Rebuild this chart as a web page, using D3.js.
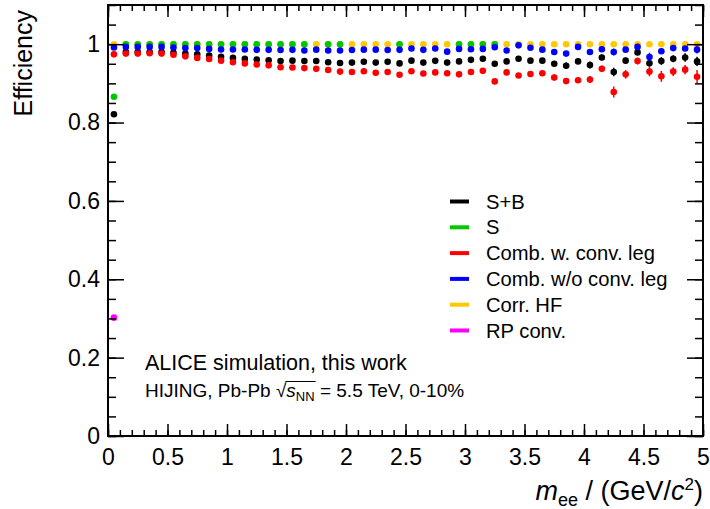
<!DOCTYPE html>
<html><head><meta charset="utf-8">
<script src="https://cdn.jsdelivr.net/npm/d3@7"></script>
<style>
html,body{margin:0;padding:0;background:#fff;}
text{font-family:"Liberation Sans",Arial,Helvetica,sans-serif;}
</style></head>
<body><svg id="c" width="710" height="509"></svg>
<script>
// ---- data ----
const binCenters = [0.05,0.15,0.25,0.35,0.45,0.55,0.65,0.75,0.85,0.95,1.05,1.15,1.25,1.35,1.45,1.55,1.65,1.75,1.85,1.95,2.05,2.15,2.25,2.35,2.45,2.55,2.65,2.75,2.85,2.95,3.05,3.15,3.25,3.35,3.45,3.55,3.65,3.75,3.85,3.95,4.05,4.15,4.25,4.35,4.45,4.55,4.65,4.75,4.85,4.95];
const xTickLabels = [0,0.5,1,1.5,2,2.5,3,3.5,4,4.5,5];
const yTickLabels = [0,0.2,0.4,0.6,0.8,1];
const seriesNames = ["S+B","S","Comb. w. conv. leg","Comb. w/o conv. leg","Corr. HF","RP conv."];
const seriesColors = ["#000000","#00c800","#ff0000","#0000ff","#ffc800","#ff00ff"];

const effSB = [0.821,0.980,0.980,0.980,0.980,0.978,0.976,0.974,0.971,0.968,0.965,0.9625,0.961,0.959,0.957,0.958,0.957,
0.957,0.954,0.952,0.953,0.955,0.953,0.955,0.951,0.958,0.953,0.9575,0.953,0.956,0.960,0.963,0.950,0.956,
0.963,0.958,0.958,0.950,0.945,0.956,0.947,0.966,0.929,0.958,0.979,0.9515,0.957,0.963,0.966,0.956];
const errSB = [0.002,0.002,0.002,0.002,0.002,0.002,0.002,0.002,0.002,0.002,0.002,0.002,0.002,0.002,0.002,0.002,0.002,
0.002,0.002,0.002,0.002,0.002,0.002,0.002,0.002,0.002,0.002,0.002,0.002,0.002,0.004,0.004,0.004,0.004,
0.004,0.004,0.004,0.006,0.008,0.006,0.009,0.007,0.011,0.008,0.007,0.009,0.010,0.009,0.011,0.012];
const effS = [0.866,1,1,1,1,1,1,1,1,1,1,1,1,1,1,1,1,
null,1,1,null,null,null,null,1,null,null,null,null,1,1,1,1,null,
null,null,null,null,null,null,null,null,null,null,null,null,null,null,null,null];
const effCombW = [0.974,0.976,0.976,0.977,0.976,0.973,0.969,0.965,0.962,0.958,0.954,0.951,0.948,0.946,0.941,0.9405,0.939,
0.937,0.934,0.930,0.929,0.931,0.927,0.929,0.922,0.931,0.925,0.928,0.926,0.923,0.929,0.932,0.905,0.928,
0.920,0.924,0.926,0.915,0.906,0.908,0.910,0.937,0.878,0.923,0.957,0.930,0.918,0.930,0.935,0.917];
const errCombW = [0.003,0.003,0.003,0.003,0.003,0.003,0.003,0.003,0.003,0.003,0.003,0.003,0.003,0.003,0.003,0.003,0.003,
0.003,0.003,0.003,0.003,0.003,0.003,0.003,0.003,0.003,0.003,0.003,0.003,0.003,0.005,0.005,0.005,0.005,
0.005,0.005,0.005,0.008,0.008,0.007,0.009,0.008,0.014,0.011,0.009,0.012,0.014,0.011,0.012,0.017];
const effCombWo = [0.9915,0.993,0.993,0.993,0.993,0.9915,0.990,0.990,0.988,0.9865,0.9865,0.9865,0.9855,0.9855,0.985,0.9855,0.984,
0.986,0.984,0.984,0.985,0.986,0.986,0.985,0.9855,0.989,0.9855,0.989,0.981,0.988,0.987,0.988,0.992,0.984,
0.997,0.991,0.986,0.980,0.976,0.993,0.980,0.987,0.980,0.986,0.993,0.967,0.982,0.990,0.989,0.986];
const errCombWo = [0.002,0.002,0.002,0.002,0.002,0.002,0.002,0.002,0.002,0.002,0.002,0.002,0.002,0.002,0.002,0.002,0.002,
0.002,0.002,0.002,0.002,0.002,0.002,0.002,0.002,0.002,0.002,0.002,0.002,0.002,0.002,0.002,0.002,0.002,
0.002,0.002,0.002,0.005,0.006,0.004,0.006,0.005,0.009,0.006,0.005,0.011,0.007,0.006,0.006,0.010];
const effCorrHF = [1,1,1,1,1,1,1,1,1,1,1,1,1,1,1,1,1,
1,1,1,1,1,1,1,1,1,1,1,1,1,1,1,1,1,
1,1,1,1,1,1,1,1,1,1,1,1,1,1,1,1];
const effRP = [0.302,null,null,null,null,null,null,null,null,null,null,null,null,null,null,null,null,
null,null,null,null,null,null,null,null,null,null,null,null,null,null,null,null,null,
null,null,null,null,null,null,null,null,null,null,null,null,null,null,null,null];

// ---- chart ----
const svg = d3.select("#c");
const x = d3.scaleLinear().domain([0,5]).range([108,703]);
const y = d3.scaleLinear().domain([0,1.1]).range([436,5]);
const font = '"Liberation Sans",Arial,Helvetica,sans-serif';

// series: [values, errors, colorIndex] in drawing order
const drawOrder = [
  [effSB, errSB, 0],
  [effCorrHF, null, 4],
  [effS, null, 1],
  [effCombW, errCombW, 2],
  [effCombWo, errCombWo, 3],
  [effRP, null, 5]
];
const gData = svg.append("g");
drawOrder.forEach(([vals, errs, ci]) => {
  const pts = binCenters.map((c,i)=>({x:c, v:vals[i], e:errs?errs[i]:0})).filter(d=>d.v!==null);
  const g = gData.append("g");
  g.selectAll("line").data(pts.filter(d=>d.e>0)).join("line")
    .attr("x1",d=>x(d.x)).attr("x2",d=>x(d.x))
    .attr("y1",d=>y(d.v-d.e)).attr("y2",d=>y(d.v+d.e))
    .attr("stroke",seriesColors[ci]).attr("stroke-width",1.5);
  g.selectAll("circle").data(pts).join("circle")
    .attr("cx",d=>x(d.x)).attr("cy",d=>y(d.v)).attr("r",3.3)
    .attr("fill",seriesColors[ci]);
});

// axes
const xMinor = d3.range(0,5.0001,0.1).map(v=>+v.toFixed(2));
const yMinor = d3.range(0,1.1001,0.05).map(v=>+v.toFixed(2));
function styleAxis(g){ g.select(".domain").remove(); g.selectAll(".tick line").attr("stroke","#000").attr("stroke-width",1.5); }

svg.append("g").attr("transform","translate(0,436)")
  .call(d3.axisBottom(x).tickValues(xTickLabels).tickSize(-12).tickPadding(13).tickFormat(d3.format("")))
  .call(styleAxis).call(g=>g.selectAll("text").attr("font-size",23).attr("font-family",font).attr("fill","#000"));
svg.append("g").attr("transform","translate(0,436)")
  .call(d3.axisBottom(x).tickValues(xMinor).tickSize(-6).tickFormat(""))
  .call(styleAxis);
svg.append("g").attr("transform","translate(0,5)")
  .call(d3.axisTop(x).tickValues(xTickLabels).tickSize(-12).tickFormat(""))
  .call(styleAxis);
svg.append("g").attr("transform","translate(0,5)")
  .call(d3.axisTop(x).tickValues(xMinor).tickSize(-6).tickFormat(""))
  .call(styleAxis);

svg.append("g").attr("transform","translate(108,0)")
  .call(d3.axisLeft(y).tickValues(yTickLabels).tickSize(-16).tickPadding(8).tickFormat(d3.format("")))
  .call(styleAxis).call(g=>g.selectAll("text").attr("font-size",23).attr("font-family",font).attr("fill","#000"));
svg.append("g").attr("transform","translate(108,0)")
  .call(d3.axisLeft(y).tickValues(yMinor).tickSize(-8).tickFormat(""))
  .call(styleAxis);
svg.append("g").attr("transform","translate(703,0)")
  .call(d3.axisRight(y).tickValues(yTickLabels).tickSize(-16).tickFormat(""))
  .call(styleAxis);
svg.append("g").attr("transform","translate(703,0)")
  .call(d3.axisRight(y).tickValues(yMinor).tickSize(-8).tickFormat(""))
  .call(styleAxis);

// frame
svg.append("rect").attr("x",x(0)).attr("y",y(1.1)).attr("width",x(5)-x(0)).attr("height",y(0)-y(1.1))
  .attr("fill","none").attr("stroke","#000").attr("stroke-width",2);

// axis titles
svg.append("text").attr("transform","translate(32,10) rotate(-90)").attr("text-anchor","end")
  .attr("font-size",25).attr("fill","#000").text("Efficiency");
const xt = svg.append("text").attr("x",703).attr("y",500).attr("text-anchor","end").attr("font-size",27).attr("fill","#000");
xt.append("tspan").attr("font-style","italic").text("m");
xt.append("tspan").attr("font-size",18).attr("dy",6).text("ee");
xt.append("tspan").attr("dy",-6).text(" / (GeV/");
xt.append("tspan").attr("font-style","italic").text("c");
xt.append("tspan").attr("font-size",17).attr("dy",-10).text("2");
xt.append("tspan").attr("dy",10).text(")");

// legend
const lg = svg.append("g");
const legY = [201.5,227.3,253.1,278.9,304.7,330.5];
seriesNames.forEach((n,i)=>{
  lg.append("line").attr("x1",450).attr("x2",469).attr("y1",legY[i]).attr("y2",legY[i])
    .attr("stroke",seriesColors[i]).attr("stroke-width",4);
  lg.append("text").attr("x",486).attr("y",legY[i]+7).attr("font-size",20.2).attr("fill","#000").text(n);
});

// annotation
svg.append("text").attr("x",145).attr("y",370).attr("font-size",21.5).attr("fill","#000").text("ALICE simulation, this work");
const t2 = svg.append("text").attr("x",145).attr("y",397).attr("font-size",19).attr("fill","#000");
t2.append("tspan").text("HIJING, Pb-Pb ");
t2.append("tspan").text("\u221A");
t2.append("tspan").attr("font-style","italic").text("s");
t2.append("tspan").attr("font-size",13).attr("dy",4).text("NN");
t2.append("tspan").attr("dy",-4).text(" = 5.5 TeV, 0-10%");
// overline of the square root
const node = t2.node();
const full = "HIJING, Pb-Pb \u221AsNN";
const i0 = full.indexOf("\u221A");
const sx0 = node.getEndPositionOfChar(i0).x;
const sx1 = node.getEndPositionOfChar(full.length-1).x;
svg.append("line").attr("x1",sx0-1).attr("x2",sx1+1).attr("y1",397-15.5).attr("y2",397-15.5)
  .attr("stroke","#000").attr("stroke-width",1);
</script></body></html>
